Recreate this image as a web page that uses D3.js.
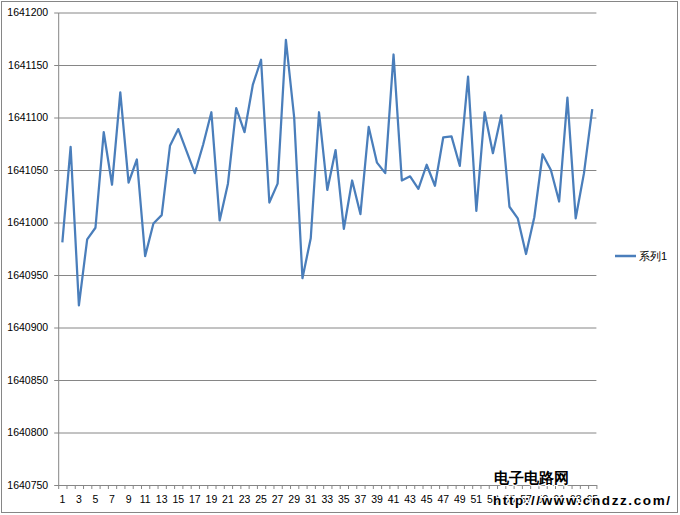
<!DOCTYPE html>
<html>
<head>
<meta charset="utf-8">
<script src="https://cdn.jsdelivr.net/npm/d3@7/dist/d3.min.js"></script>
<style>
  body { margin: 0; background: #fff; }
  svg text { font-family: 'Liberation Sans', Arial, sans-serif; fill: #000; }
</style>
</head>
<body>
<div id="chart"></div>
<script>
// data
const categories = [
  1, 2, 3, 4, 5, 6, 7, 8, 9, 10, 11, 12, 13, 14, 15, 16, 17, 18, 19, 20,
  21, 22, 23, 24, 25, 26, 27, 28, 29, 30, 31, 32, 33, 34, 35, 36, 37, 38, 39, 40,
  41, 42, 43, 44, 45, 46, 47, 48, 49, 50, 51, 52, 53, 54, 55, 56, 57, 58, 59, 60,
  61, 62, 63, 64, 65
]
const values = [
  1640981, 1641072, 1640921, 1640984, 1640995, 1641086, 1641036, 1641124, 1641038, 1641060,
  1640968, 1640999, 1641007, 1641073, 1641089, 1641068, 1641047, 1641074, 1641105, 1641002,
  1641037, 1641109, 1641086, 1641131, 1641155, 1641019, 1641037, 1641174, 1641100, 1640947,
  1640985, 1641105, 1641031, 1641069, 1640994, 1641040, 1641008, 1641091, 1641057, 1641047,
  1641160, 1641040, 1641044, 1641032, 1641055, 1641035, 1641081, 1641082, 1641054, 1641139,
  1641011, 1641105, 1641066, 1641102, 1641015, 1641004, 1640970, 1641005, 1641065, 1641050,
  1641020, 1641119, 1641004, 1641047, 1641108
]
const yTicks = [1640750, 1640800, 1640850, 1640900, 1640950, 1641000, 1641050, 1641100, 1641150, 1641200]
const xLabels = categories.filter(d => d % 2 === 1)
const seriesName = '系列1'

const W = 680
const H = 515
const plot = { left: 58.2, right: 596.4, top: 12.5, bottom: 485 }
const gray = '#868686'
const blue = '#4A7EBB'

const svg = d3.select('#chart')
  .append('svg')
  .attr('width', W)
  .attr('height', H)

// outer chart border
svg.append('rect')
  .attr('x', 1.5).attr('y', 1.5)
  .attr('width', 676).attr('height', 511)
  .attr('fill', '#fff')
  .attr('stroke', gray)

const x = d3.scaleBand()
  .domain(categories)
  .range([plot.left, plot.right])
  .paddingInner(0)
  .paddingOuter(0)

// category edges, for tick marks between categories
const xEdge = d3.scaleLinear()
  .domain([0, categories.length])
  .range([plot.left, plot.right])

const y = d3.scaleLinear()
  .domain([yTicks[0], yTicks[yTicks.length - 1]])
  .range([plot.bottom, plot.top])

// gridlines
svg.append('g')
  .attr('class', 'grid')
  .attr('transform', `translate(${plot.left},0)`)
  .call(d3.axisLeft(y).tickValues(yTicks).tickSize(-(plot.right - plot.left)).tickFormat(''))
  .call(g => g.select('.domain').remove())
  .call(g => g.selectAll('line').attr('stroke', gray))

// y axis
svg.append('g')
  .attr('transform', `translate(${plot.left},0)`)
  .call(d3.axisLeft(y).tickValues(yTicks).tickSize(4).tickSizeOuter(0).tickPadding(6).tickFormat(d3.format('d')))
  .call(g => g.select('.domain').attr('stroke', gray))
  .call(g => g.selectAll('line').attr('stroke', gray))
  .call(g => g.selectAll('text').attr('font-size', '10.5px').attr('font-family', "'Liberation Sans', Arial, sans-serif").attr('fill', '#000'))

// x axis: tick marks between categories
svg.append('g')
  .attr('transform', `translate(0,${plot.bottom})`)
  .call(d3.axisBottom(xEdge).tickValues(d3.range(0, categories.length + 1)).tickSize(4).tickSizeOuter(0).tickFormat(''))
  .call(g => g.select('.domain').attr('stroke', gray))
  .call(g => g.selectAll('line').attr('stroke', gray))

// x axis labels at category centres
svg.append('g')
  .attr('transform', `translate(0,${plot.bottom})`)
  .call(d3.axisBottom(x).tickValues(xLabels).tickSize(0).tickPadding(11))
  .call(g => g.select('.domain').remove())
  .call(g => g.selectAll('text').attr('font-size', '10.5px').attr('font-family', "'Liberation Sans', Arial, sans-serif").attr('fill', '#000'))

// series line
const line = d3.line()
  .x((d, i) => x(categories[i]) + x.bandwidth() / 2)
  .y(d => y(d))

svg.append('path')
  .datum(values)
  .attr('d', line)
  .attr('fill', 'none')
  .attr('stroke', blue)
  .attr('stroke-width', 2.25)
  .attr('stroke-linejoin', 'round')

// legend
const legend = svg.append('g').attr('transform', 'translate(615,256)')
legend.append('line')
  .attr('x1', 0).attr('x2', 21)
  .attr('stroke', blue)
  .attr('stroke-width', 2.5)
legend.append('text')
  .attr('x', 24)
  .attr('y', 4)
  .attr('font-size', '11px')
  .text(seriesName)

// site watermark
const wm = svg.append('g')
wm.append('text')
  .attr('x', 494).attr('y', 483)
  .attr('font-family', "'Noto Sans CJK SC', sans-serif")
  .attr('font-weight', 'bold')
  .attr('font-size', '14.5px')
  .attr('fill', '#6e6e6e')
  .attr('stroke', '#fff')
  .attr('stroke-width', 2)
  .attr('paint-order', 'stroke')
  .text('电子电路网')
wm.append('text')
  .attr('x', 493).attr('y', 505)
  .attr('font-family', "'DejaVu Sans', sans-serif")
  .attr('font-weight', 'bold')
  .attr('font-size', '13.5px')
  .attr('textLength', 177)
  .attr('fill', '#6e6e6e')
  .attr('stroke', '#fff')
  .attr('stroke-width', 2)
  .attr('paint-order', 'stroke')
  .text('http://www.cndzz.com/')
</script>
</body>
</html>
